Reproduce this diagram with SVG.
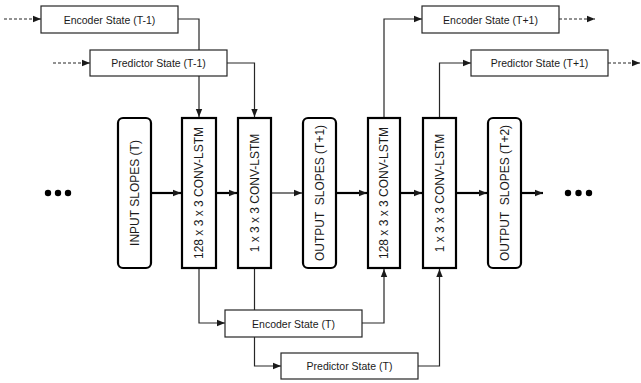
<svg xmlns="http://www.w3.org/2000/svg" width="641" height="383" viewBox="0 0 641 383">
<defs>
<marker id="ah" markerUnits="userSpaceOnUse" markerWidth="8" markerHeight="8" viewBox="0 0 8 8" refX="8" refY="4" orient="auto"><path d="M0,0.8 L8,4 L0,7.2 Z" fill="#1a1a1a"/></marker>
</defs>
<style>
.st{fill:#fff;stroke:#262626;stroke-width:1.2}
.bl{fill:#fff;stroke:#000;stroke-width:2.2}
.c{fill:none;stroke:#262626;stroke-width:1.2;marker-end:url(#ah)}
.d{fill:none;stroke:#262626;stroke-width:1.2;stroke-dasharray:3,2;marker-end:url(#ah)}
.t{fill:none;stroke:#000;stroke-width:2.2;marker-end:url(#ah)}
.lb{font-family:"Liberation Sans",Arial,sans-serif;font-size:10.5px;fill:#1a1a1a;text-anchor:middle;dominant-baseline:central}
.vl{font-family:"Liberation Sans",Arial,sans-serif;font-size:12px;fill:#1a1a1a;text-anchor:middle;dominant-baseline:central}
.dot{fill:#000}
</style>
<g id="connectors">
<path class="d" d="M4,19 H41"/>
<path class="d" d="M53,63 H90"/>
<path class="d" d="M559,19 H595"/>
<path class="d" d="M608,63 H640"/>
<path class="c" d="M178,19 H199 V117"/>
<path class="c" d="M227,63 H254.5 V117"/>
<path class="c" d="M384,117 V19 H422"/>
<path class="c" d="M439.5,117 V63 H471"/>
<path class="c" d="M199,269 V323 H225"/>
<path class="c" d="M254.5,269 V366 H281"/>
<path class="c" d="M362,323 H384 V269"/>
<path class="c" d="M418,366 H439.5 V269"/>
<path class="t" d="M152,193 H181"/>
<path class="t" d="M217,193 H237"/>
<path class="c" d="M272,193 H302"/>
<path class="t" d="M337,193 H367"/>
<path class="t" d="M401,193 H422"/>
<path class="t" d="M457,193 H487"/>
<path class="t" d="M522,193 H543"/>
</g>
<g id="dots-left"><circle class="dot" cx="48" cy="193" r="3.2"/><circle class="dot" cx="58" cy="193" r="3.2"/><circle class="dot" cx="68" cy="193" r="3.2"/></g>
<g id="dots-right"><circle class="dot" cx="568" cy="193" r="3.2"/><circle class="dot" cx="578.5" cy="193" r="3.2"/><circle class="dot" cx="589" cy="193" r="3.2"/></g>
<g id="enc-tm1"><rect class="st" x="41" y="6" width="137" height="27"/><text class="lb" x="109.5" y="19.5">Encoder State (T-1)</text></g>
<g id="pred-tm1"><rect class="st" x="90" y="50" width="137" height="26"/><text class="lb" x="158.5" y="63">Predictor State (T-1)</text></g>
<g id="enc-tp1"><rect class="st" x="422" y="6" width="137" height="27"/><text class="lb" x="490.5" y="19.5">Encoder State (T+1)</text></g>
<g id="pred-tp1"><rect class="st" x="471" y="50" width="137" height="26"/><text class="lb" x="539.5" y="63">Predictor State (T+1)</text></g>
<g id="enc-t"><rect class="st" x="225" y="310" width="137" height="27"/><text class="lb" x="293.5" y="323.5">Encoder State (T)</text></g>
<g id="pred-t"><rect class="st" x="281" y="353" width="137" height="26"/><text class="lb" x="349.5" y="366">Predictor State (T)</text></g>
<g id="input"><rect class="bl" x="118" y="118" width="33" height="150" rx="5"/><text class="vl" transform="translate(134.5,193) rotate(-90)">INPUT SLOPES (T)</text></g>
<g id="lstm1"><rect class="bl" x="182" y="118" width="34" height="150"/><text class="vl" transform="translate(199,193) rotate(-90)">128 x 3 x 3 CONV-LSTM</text></g>
<g id="lstm2"><rect class="bl" x="238" y="118" width="33" height="150"/><text class="vl" transform="translate(254.5,193) rotate(-90)">1 x 3 x 3 CONV-LSTM</text></g>
<g id="output1"><rect class="bl" x="303" y="118" width="33" height="150" rx="5"/><text class="vl" transform="translate(319.5,193) rotate(-90)" xml:space="preserve">OUTPUT  SLOPES (T+1)</text></g>
<g id="lstm3"><rect class="bl" x="368" y="118" width="32" height="150"/><text class="vl" transform="translate(384,193) rotate(-90)">128 x 3 x 3 CONV-LSTM</text></g>
<g id="lstm4"><rect class="bl" x="423" y="118" width="33" height="150"/><text class="vl" transform="translate(439.5,193) rotate(-90)">1 x 3 x 3 CONV-LSTM</text></g>
<g id="output2"><rect class="bl" x="488" y="118" width="33" height="150" rx="5"/><text class="vl" transform="translate(504.5,193) rotate(-90)" xml:space="preserve">OUTPUT  SLOPES (T+2)</text></g>
</svg>
